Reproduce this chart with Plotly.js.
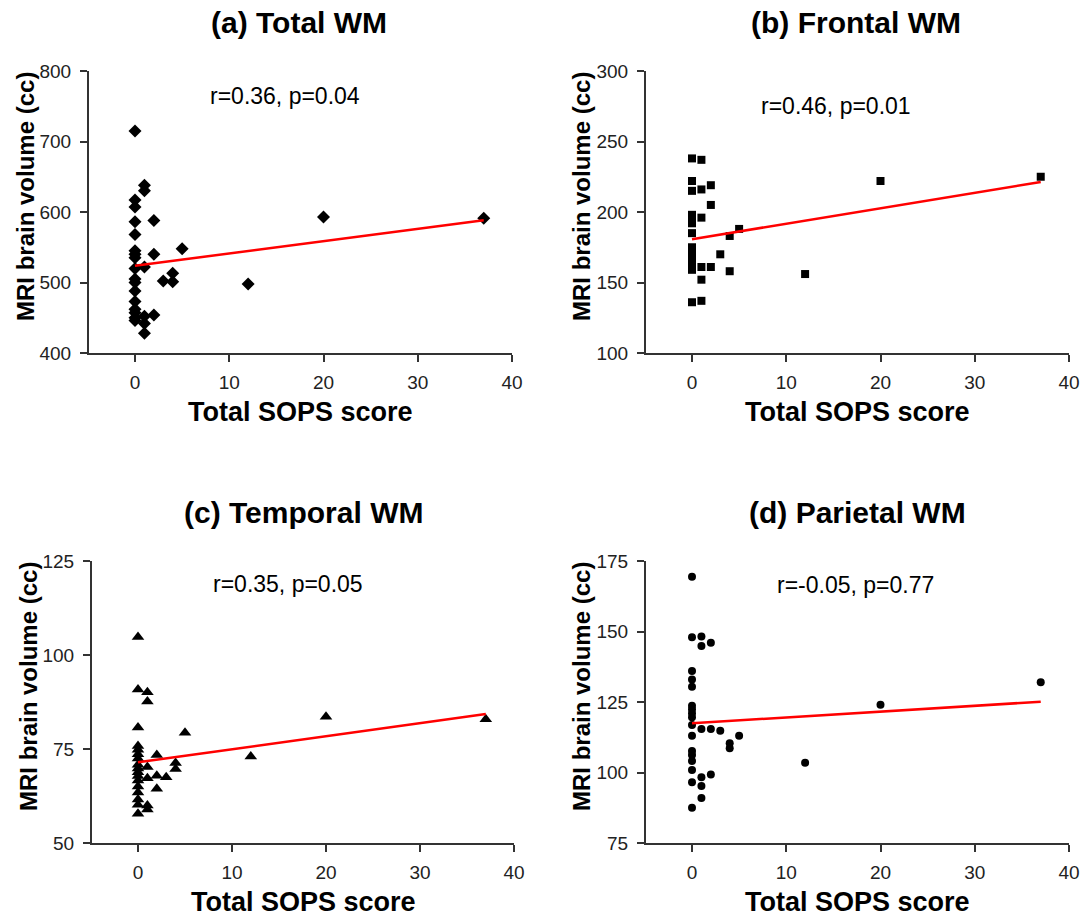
<!DOCTYPE html>
<html>
<head>
<meta charset="utf-8">
<script src="https://cdn.plot.ly/plotly-3.0.1.min.js"></script>
<style>html,body{margin:0;padding:0;background:#fff;}#chart{width:1088px;height:917px;}</style>
</head>
<body>
<div id="chart"></div>
<script>
// ---- Data ----
const sopsScore = [0,0,0,0,0,0,0,0,0,0,0,0,0,0,0,0,0, 1,1,1,1,1,1, 2,2,2, 3, 4,4, 5, 12, 20, 37];
const totalWM = [715,617,607,586,568,545,540,535,520,505,500,488,473,462,457,450,446,
                 638,630,522,452,442,428, 588,540,454, 502, 513,501, 548, 498, 593, 591];
const frontalWM = [238,222,215,198,195,192,185,175,173,171,169,167,165,163,161,159,136,
                   237,216,196,161,152,137, 219,205,161, 170, 183,158, 188, 156, 222, 225];
const temporalWM = [104.8,90.8,80.7,75.8,74.8,73.6,72.5,70.8,69.8,68.8,67.8,66.6,65.0,63.4,61.6,60.2,57.8,
                    90.1,87.6,70.2,67.2,60.0,58.9, 73.4,67.9,64.4, 67.5, 71.3,69.7, 79.3, 73.0, 83.6, 82.9];
const parietalWM = [169.4,148,136,133,130.4,123.7,122.4,121,119.6,116.8,113,107.6,106.2,104.1,100.9,96.5,87.5,
                    148.2,144.9,115.4,98.3,95.2,91.0, 146,115.4,99.3, 114.8, 110.4,108.6, 113, 103.5, 124, 132];
const panelTitles = ['(a) Total WM', '(b) Frontal WM', '(c) Temporal WM', '(d) Parietal WM'];
const statsText = ['r=0.36, p=0.04', 'r=0.46, p=0.01', 'r=0.35, p=0.05', 'r=-0.05, p=0.77'];
const xTickVals = [0, 10, 20, 30, 40];
const yTickVals = [[400,500,600,700,800],[100,150,200,250,300],[50,75,100,125],[75,100,125,150,175]];
const xTitle = 'Total SOPS score';
const yTitle = 'MRI brain volume (cc)';

// ---- helpers ----
const W = 1088, H = 917;
const px = x => x / W;
const py = y => 1 - y / H;
function fit(xs, ys) {
  const n = xs.length;
  const mx = xs.reduce((a,b)=>a+b,0)/n, my = ys.reduce((a,b)=>a+b,0)/n;
  let sxy = 0, sxx = 0;
  for (let i=0;i<n;i++){ sxy += (xs[i]-mx)*(ys[i]-my); sxx += (xs[i]-mx)**2; }
  const b = sxy/sxx, a = my - b*mx;
  const x0 = Math.min(...xs), x1 = Math.max(...xs);
  return {x:[x0,x1], y:[a+b*x0, a+b*x1]};
}

const FONT = '"Liberation Sans", Arial, sans-serif';
const series = [totalWM, frontalWM, temporalWM, parietalWM];
const symbols = ['diamond', 'square', 'triangle-up', 'circle'];
const msizes = [10, 8, 11, 8];
// panel boxes in pixels: left, right, top, bottom ; x at 0
const boxes = [
  {l:89,  r:512,  t:71,  b:353, x0:135},
  {l:646, r:1069, t:71,  b:353, x0:692},
  {l:92,  r:514,  t:561, b:843, x0:138},
  {l:646, r:1069, t:561, b:843, x0:692}
];
const yRanges = [[400,800],[100,300],[50,125],[75,175]];
const titlePos = [[299,22],[856,22],[303,512],[857,512]];
const statPos = [[285,96],[836,106],[288,584],[855,585]];

const data = [], layout = {
  width: W, height: H, margin:{l:0,r:0,t:0,b:0},
  paper_bgcolor:'#fff', plot_bgcolor:'#fff', showlegend:false,
  font:{family:FONT, color:'#000'}, annotations:[]
};

for (let k=0;k<4;k++){
  const bx = boxes[k];
  const pxPerUnit = (bx.r - bx.x0)/40;
  const xmin = -(bx.x0 - bx.l)/pxPerUnit;
  const sfx = k===0 ? '' : String(k+1);
  data.push({
    type:'scatter', mode:'markers', x:sopsScore, y:series[k],
    xaxis:'x'+sfx, yaxis:'y'+sfx, cliponaxis:false,
    marker:{symbol:symbols[k], size:msizes[k], color:'#000', line:{width:0}}
  });
  const f = fit(sopsScore, series[k]);
  data.push({
    type:'scatter', mode:'lines', x:f.x, y:f.y, xaxis:'x'+sfx, yaxis:'y'+sfx,
    line:{color:'#ff0000', width:2.5}, cliponaxis:false
  });
  const common = {showgrid:false, zeroline:false, showline:true, linecolor:'#333', linewidth:2,
    ticks:'outside', ticklen:7, tickwidth:2, tickcolor:'#333',
    tickfont:{family:FONT, size:19, color:'#222'}, fixedrange:true};
  layout['xaxis'+sfx] = Object.assign({}, common, {
    domain:[px(bx.l), px(bx.r)], range:[xmin, 40], tickvals:xTickVals,
    anchor:'y'+sfx, ticklabelstandoff:4
  });
  layout['yaxis'+sfx] = Object.assign({}, common, {
    domain:[py(bx.b), py(bx.t)], range:yRanges[k], tickvals:yTickVals[k],
    anchor:'x'+sfx, ticklabelstandoff:5
  });
  layout.annotations.push({
    xref:'paper', yref:'paper', x:px(titlePos[k][0]), y:py(titlePos[k][1]),
    text:'<b>'+panelTitles[k]+'</b>', showarrow:false, xanchor:'center', yanchor:'middle',
    font:{family:FONT, size:30, color:'#000'}
  });
  layout.annotations.push({
    xref:'paper', yref:'paper', x:px(statPos[k][0]), y:py(statPos[k][1]),
    text:statsText[k], showarrow:false, xanchor:'center', yanchor:'middle',
    font:{family:FONT, size:23, color:'#000'}
  });
  layout.annotations.push({
    xref:'paper', yref:'paper', x:px((bx.l+bx.r)/2), y:py(bx.b+59),
    text:'<b>'+xTitle+'</b>', showarrow:false, xanchor:'center', yanchor:'middle',
    font:{family:FONT, size:27, color:'#000'}
  });
  layout.annotations.push({
    xref:'paper', yref:'paper', x:px(bx.l - (k%2===0 ? 64 : 65)), y:py((bx.t+bx.b)/2 - 15),
    text:'<b>'+yTitle+'</b>', showarrow:false, xanchor:'center', yanchor:'middle', textangle:-90,
    font:{family:FONT, size:24, color:'#000'}
  });
}

Plotly.newPlot('chart', data, layout, {displayModeBar:false, staticPlot:true});
</script>
</body>
</html>
